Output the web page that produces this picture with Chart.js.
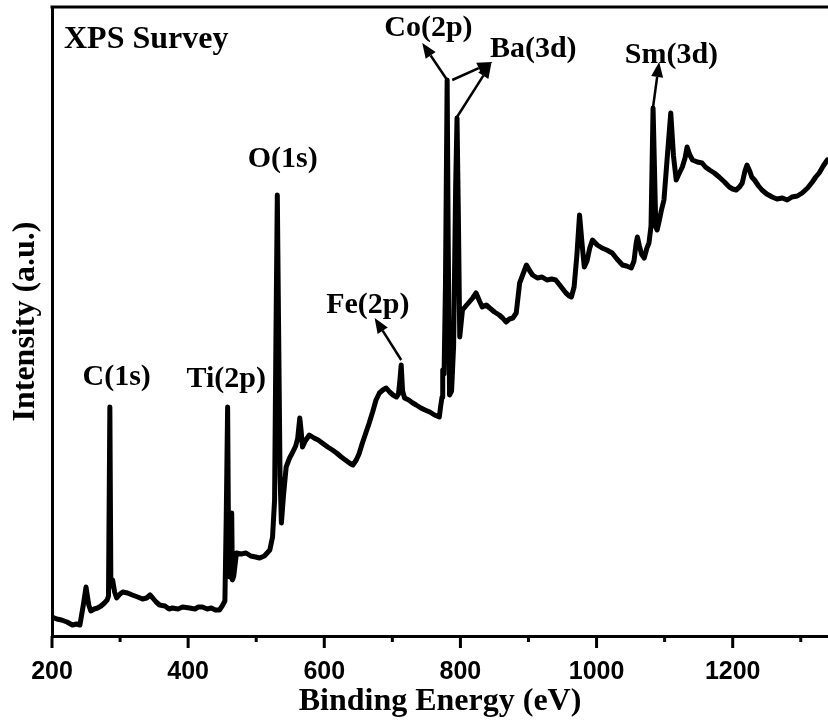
<!DOCTYPE html>
<html>
<head>
<meta charset="utf-8">
<script src="https://cdn.jsdelivr.net/npm/chart.js@4.4.1/dist/chart.umd.min.js"></script>
<style>
  body { margin: 0; background: #fff; }
  canvas { display: block; }
</style>
</head>
<body>
<canvas id="xps" width="828" height="728"></canvas>
<script>
// binding energy (eV) and intensity (a.u.)
const energy = [
  200, 207, 214, 222, 230, 236, 241, 246, 250, 254, 257, 262, 267, 272, 277, 281, 283, 285, 286.5, 289,
  292, 295, 300, 304, 311, 318, 326, 333, 339, 344, 348, 353, 358, 366, 372, 377, 385, 392, 402, 410,
  415, 421, 428, 434, 440, 446, 450, 454, 456, 458, 459.5, 461, 463, 464, 465, 467, 471, 478, 485, 492,
  499, 505, 512, 520, 524, 527, 529, 531, 533, 535, 537, 540, 544, 549, 553, 558, 561, 564, 566, 568,
  572, 578, 585, 591, 597, 605, 612, 618, 625, 631, 637, 642, 647, 651, 656, 661, 666, 671, 676, 681,
  686, 691, 696, 701, 706, 709, 711, 713, 715, 718, 724, 730, 735, 742, 748, 755, 762, 769, 771, 773,
  774, 776, 778, 780.5, 782, 784, 787, 790, 793, 795, 797, 799, 803, 808, 813, 818, 823, 828, 832, 838,
  843, 850, 857, 862, 867, 872, 877, 882, 887, 892, 897, 902, 906, 913, 920, 927, 934, 940, 947, 955,
  960, 963, 967, 971, 975, 979, 982, 986, 990, 994, 1001, 1008, 1015, 1023, 1030, 1038, 1044, 1051, 1055, 1058,
  1060, 1063, 1066, 1070, 1074, 1077, 1080, 1083, 1085, 1087, 1089, 1092, 1095, 1099, 1104, 1109, 1113, 1117, 1121, 1126,
  1130, 1133, 1137, 1141, 1148, 1155, 1160, 1166, 1173, 1180, 1188, 1195, 1200, 1205, 1210, 1214, 1218, 1221, 1225, 1228,
  1232, 1238, 1243, 1250, 1258, 1265, 1273, 1280, 1287, 1295, 1302, 1310, 1317, 1322, 1327, 1333, 1339
];
const intensity = [
  19, 17, 16, 14, 11, 12, 11, 31, 49, 31, 25, 27, 28, 30, 33, 36, 40, 229, 50, 56,
  44, 38, 42, 44, 43, 41, 39, 37, 38, 41, 38, 34, 31, 30, 27, 28, 27, 29, 28, 27,
  29, 29, 27, 28, 26, 26, 30, 35, 120, 229, 80, 59, 100, 123, 56, 60, 83, 82, 83, 80,
  79, 78, 80, 86, 99, 136, 300, 441, 300, 160, 113, 140, 169, 178, 183, 190, 198, 218, 205, 189,
  195, 201, 198, 196, 193, 189, 186, 183, 179, 176, 173, 171, 176, 182, 193, 203, 213, 224, 236, 243,
  246, 248, 244, 241, 239, 242, 255, 271, 245, 238, 236, 233, 231, 228, 226, 224, 221, 219, 230, 239,
  266, 262, 350, 556, 400, 241, 245, 290, 450, 518, 420, 299, 326, 330, 334, 338, 343, 335, 329, 331,
  328, 324, 321, 318, 314, 317, 318, 323, 353, 362, 371, 365, 361, 358, 359, 356, 357, 356, 350, 343,
  340, 339, 349, 380, 421, 390, 369, 375, 388, 396, 391, 388, 386, 383, 377, 371, 370, 368, 375, 392,
  399, 390, 382, 378, 388, 393, 410, 528, 470, 409, 406, 415, 425, 436, 480, 523, 480, 456, 462, 469,
  478, 489, 481, 476, 474, 473, 469, 466, 463, 459, 454, 449, 447, 446, 449, 453, 465, 471, 465, 459,
  456, 450, 446, 442, 439, 437, 438, 436, 439, 440, 443, 448, 454, 459, 463, 470, 476
];

const xTicks = [200, 400, 600, 800, 1000, 1200];

// peak labels: text, energy (centre) and intensity (baseline)
const peakNames = ['C(1s)', 'Ti(2p)', 'O(1s)', 'Fe(2p)', 'Co(2p)', 'Ba(3d)', 'Sm(3d)'];
const peakLabelE = [295, 456, 539, 664, 753, 907, 1110];
const peakLabelI = [251, 249, 469, 323, 600, 579, 573];

// arrows: [fromE, fromI, toE, toI]
const arrows = [
  [713, 276, 674, 318],
  [780.5, 556, 744, 593],
  [788, 556, 847, 574],
  [795, 519, 845.5, 573],
  [1083, 529, 1092, 574]
];

const serif = '"Liberation Serif", "Times New Roman", serif';
const sans = '"Liberation Sans", Arial, sans-serif';

const decor = {
    id: 'decor',
    afterDatasetsDraw(chart) {
        const { ctx, chartArea: a, scales: { x, y } } = chart;
        ctx.save();
        ctx.strokeStyle = '#000';
        ctx.fillStyle = '#000';
        ctx.lineWidth = 3;

        // top frame line
        ctx.beginPath();
        ctx.moveTo(a.left - 1.5, a.top);
        ctx.lineTo(a.right, a.top);
        ctx.stroke();

        // major / minor tick marks, outward
        ctx.beginPath();
        for (let v = 200; v <= 1300; v += 100) {
            const px = x.getPixelForValue(v);
            ctx.moveTo(px, a.bottom);
            ctx.lineTo(px, a.bottom + (v % 200 ? 6 : 12));
        }
        ctx.stroke();

        // title in the corner
        ctx.font = 'bold 32px ' + serif;
        ctx.textAlign = 'left';
        ctx.textBaseline = 'alphabetic';
        ctx.fillText('XPS Survey', a.left + 12, a.top + 41);

        ctx.font = 'bold 30px ' + serif;
        ctx.textAlign = 'center';
        peakNames.forEach((name, i) => {
            ctx.fillText(name, x.getPixelForValue(peakLabelE[i]), y.getPixelForValue(peakLabelI[i]));
        });

        // arrows
        ctx.lineWidth = 2.5;
        arrows.forEach(([e0, i0, e1, i1]) => {
            const x0 = x.getPixelForValue(e0), y0 = y.getPixelForValue(i0);
            const x1 = x.getPixelForValue(e1), y1 = y.getPixelForValue(i1);
            const ang = Math.atan2(y1 - y0, x1 - x0);
            const len = 15, half = 6;
            const bx = x1 - len * Math.cos(ang), by = y1 - len * Math.sin(ang);
            ctx.beginPath();
            ctx.moveTo(x0, y0);
            ctx.lineTo(bx, by);
            ctx.stroke();
            ctx.beginPath();
            ctx.moveTo(x1, y1);
            ctx.lineTo(bx + half * Math.sin(ang), by - half * Math.cos(ang));
            ctx.lineTo(bx - half * Math.sin(ang), by + half * Math.cos(ang));
            ctx.closePath();
            ctx.fill();
        });
        ctx.restore();
    }
};

const points = energy.map((e, i) => ({ x: e, y: intensity[i] }));

new Chart(document.getElementById('xps'), {
    type: 'line',
    data: {
        datasets: [{
            data: points,
            borderColor: '#000',
            borderWidth: 5,
            borderJoinStyle: 'round',
            borderCapStyle: 'round',
            pointRadius: 0,
            tension: 0,
            fill: false
        }]
    },
    options: {
        responsive: false,
        animation: false,
        layout: { padding: { top: 7, right: 0, bottom: 0, left: 0 } },
        plugins: { legend: { display: false }, tooltip: { enabled: false } },
        scales: {
            x: {
                type: 'linear',
                min: 200,
                max: 1340,
                afterFit: s => { s.height = 92; },
                afterBuildTicks: s => { s.ticks = xTicks.map(v => ({ value: v })); },
                grid: { display: false, drawTicks: false },
                border: { color: '#000', width: 3 },
                ticks: {
                    color: '#000',
                    padding: 21,
                    maxRotation: 0,
                    callback: v => String(v),
                    font: { family: sans, size: 25, weight: 'bold' }
                },
                title: {
                    display: true,
                    text: 'Binding Energy (eV)',
                    color: '#000',
                    padding: { top: 0, bottom: 7 },
                    font: { family: serif, size: 32, weight: 'bold' }
                }
            },
            y: {
                type: 'linear',
                min: 0,
                max: 629,
                afterFit: s => { s.width = 52; },
                grid: { display: false, drawTicks: false },
                border: { color: '#000', width: 3 },
                ticks: { display: false },
                title: {
                    display: true,
                    text: 'Intensity (a.u.)',
                    color: '#000',
                    padding: { top: 7, bottom: 0 },
                    font: { family: serif, size: 32, weight: 'bold' }
                }
            }
        }
    },
    plugins: [decor]
});
</script>
</body>
</html>
